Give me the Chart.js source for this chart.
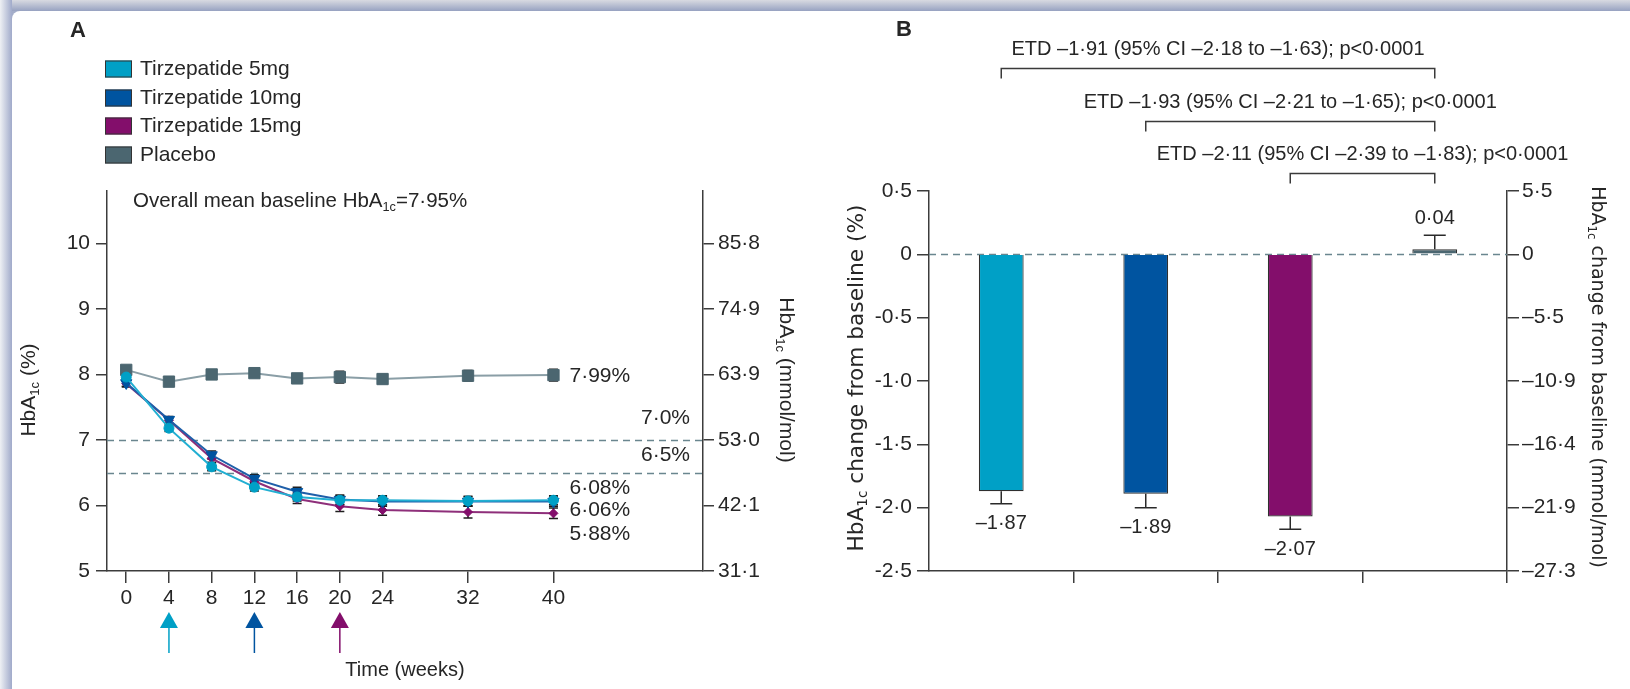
<!DOCTYPE html>
<html>
<head>
<meta charset="utf-8">
<title>Tirzepatide HbA1c</title>
<script src="https://cdn.jsdelivr.net/npm/chart.js@4.4.1/dist/chart.umd.min.js"></script>
<style>
  html, body { margin: 0; padding: 0; background: #fff; }
  body { width: 1630px; height: 689px; position: relative; overflow: hidden; }
  #bandTop { position: absolute; left: 0; top: 0; width: 1630px; height: 11px;
             background: linear-gradient(to bottom, #d8dae1, #97a2c1); }
  #bandLeft { position: absolute; left: 0; top: 0; width: 12px; height: 689px;
              background: linear-gradient(to right, #eef0f4, #a0aaca); }
  #cornerFill { position: absolute; left: 12px; top: 11px; width: 10px; height: 10px; background: #a3adc9; }
  #sheet { position: absolute; left: 12px; top: 11px; right: 0; bottom: 0; background: #fff;
           border-top-left-radius: 8px; }
  canvas { position: absolute; top: 0; }
  #chartA { left: 0; }
  #chartB { left: 815px; }
</style>
</head>
<body>
<div id="bandTop"></div>
<div id="bandLeft"></div>
<div id="cornerFill"></div>
<div id="sheet"></div>
<canvas id="chartA" width="815" height="689"></canvas>
<canvas id="chartB" width="815" height="689"></canvas>
<script>
// ---------- Panel A: HbA1c over time ----------
const weeks    = [0, 4, 8, 12, 16, 20, 24, 32, 40];
const tzp5     = [7.96, 7.18, 6.59, 6.28, 6.13, 6.08, 6.08, 6.07, 6.08];
const tzp10    = [7.87, 7.31, 6.77, 6.41, 6.21, 6.09, 6.06, 6.06, 6.06];
const tzp15    = [7.86, 7.30, 6.72, 6.37, 6.10, 5.99, 5.93, 5.90, 5.88];
const placebo  = [8.07, 7.89, 8.00, 8.02, 7.94, 7.96, 7.93, 7.98, 7.99];
const seTzp5   = [0.05, 0.05, 0.06, 0.06, 0.06, 0.07, 0.07, 0.07, 0.07];
const seTzp10  = [0.05, 0.05, 0.06, 0.06, 0.07, 0.07, 0.07, 0.07, 0.07];
const seTzp15  = [0.05, 0.05, 0.06, 0.06, 0.07, 0.08, 0.08, 0.09, 0.08];
const sePlacebo = [0.06, 0.05, 0.05, 0.05, 0.06, 0.09, 0.07, 0.08, 0.09];

const seriesNames = ['Tirzepatide 5mg', 'Tirzepatide 10mg', 'Tirzepatide 15mg', 'Placebo'];
const weekTicks   = [0, 4, 8, 12, 16, 20, 24, 32, 40];
const pctTicks    = [5, 6, 7, 8, 9, 10];
const mmolTicks   = ['31·1', '42·1', '53·0', '63·9', '74·9', '85·8'];
const targetLevels = [7.0, 6.5];
const doseEscalationWeeks = [4, 12, 20];
const baselineMean = 7.95;

// ---------- Panel B: change from baseline at week 40 ----------
const groups        = seriesNames;
const changePct     = [-1.87, -1.89, -2.07, 0.04];
const changeSE      = [0.10, 0.11, 0.10, 0.11];
const changeTicks   = [0.5, 0, -0.5, -1.0, -1.5, -2.0, -2.5];
const changeTickLabels = ['0·5', '0', '-0·5', '-1·0', '-1·5', '-2·0', '-2·5'];
const mmolChangeLabels = ['5·5', '0', '–5·5', '–10·9', '–16·4', '–21·9', '–27·3'];
const etdEstimate   = [-1.91, -1.93, -2.11];
const etdLower      = [-2.18, -2.21, -2.39];
const etdUpper      = [-1.63, -1.65, -1.83];
const etdFrom       = [0, 1, 2];
const etdTo         = [3, 3, 3];
const etdP          = ['p<0·0001', 'p<0·0001', 'p<0·0001'];

// ---------- styling ----------
const FAMILY = "'Liberation Sans', Arial, sans-serif";
const TITLE_FAMILY = "'DejaVu Sans', Verdana, sans-serif";
const INK = '#262626';
const AXIS = '#3c3c3c';
const markerColors = ['#00a0c6', '#0054a0', '#830e6b', '#4b6670'];
const lineColors   = ['#22afd2', '#1f5fa9', '#8e2f7a', '#8a9ea6'];
const markerStyles = ['circle', 'triangle', 'rectRot', 'rect'];
const markerRadius = [5, 6.5, 4.5, 8];
const markerRotation = [0, 180, 0, 0];

Chart.defaults.font.family = FAMILY;
Chart.defaults.color = INK;
Chart.defaults.animation = false;

function fmt(v, d) {
  const s = Math.abs(v).toFixed(d).replace('.', '·');
  return v < 0 ? '–' + s : s;
}

function drawRich(ctx, parts, x, y, size, o = {}) {
  const fam = o.family || FAMILY;
  const subSize = size * 0.62;
  const mainF = `${size}px ${fam}`, subF = `${subSize}px ${fam}`;
  ctx.save();
  let total = 0;
  const widths = parts.map(([t, sub]) => {
    ctx.font = sub ? subF : mainF;
    const w = ctx.measureText(t).width;
    total += w;
    return w;
  });
  ctx.translate(x, y);
  if (o.rot) ctx.rotate(o.rot);
  let cx = o.align === 'left' ? 0 : -total / 2;
  const base = size * 0.36;
  ctx.fillStyle = o.color || INK;
  ctx.textBaseline = 'alphabetic';
  ctx.textAlign = 'left';
  parts.forEach(([t, sub], k) => {
    ctx.font = sub ? subF : mainF;
    ctx.fillText(t, cx, base + (sub ? size * 0.2 : 0));
    cx += widths[k];
  });
  ctx.restore();
}

function drawText(ctx, t, x, y, size, align, weight) {
  ctx.save();
  ctx.font = `${weight || 'normal'} ${size}px ${FAMILY}`;
  ctx.fillStyle = INK;
  ctx.textAlign = align || 'center';
  ctx.textBaseline = 'middle';
  ctx.fillText(t, x, y);
  ctx.restore();
}

const fixedTicks = list => scale => { scale.ticks = list.map(v => ({ value: v })); };

// ---------- Panel A drawing helpers ----------
const panelAPlugin = {
  id: 'panelA',
  beforeDatasetsDraw(chart) {
    const { ctx, chartArea: ca, scales: { y } } = chart;
    // glycaemic target reference lines
    ctx.save();
    ctx.strokeStyle = '#6a868f';
    ctx.lineWidth = 1.5;
    ctx.setLineDash([7, 5]);
    targetLevels.forEach(t => {
      const py = Math.round(y.getPixelForValue(t)) + 0.5;
      ctx.beginPath();
      ctx.moveTo(ca.left, py);
      ctx.lineTo(ca.right, py);
      ctx.stroke();
    });
    ctx.restore();
    const labelOffset = [-22, -18];
    targetLevels.forEach((t, i) => {
      drawText(ctx, fmt(t, 1) + '%', ca.right - 13, y.getPixelForValue(t) + labelOffset[i], 21, 'right');
    });
    // error bars (drawn beneath the markers)
    ctx.save();
    ctx.strokeStyle = '#1e1e1e';
    ctx.lineWidth = 1.5;
    chart.data.datasets.forEach((ds, i) => {
      const meta = chart.getDatasetMeta(i);
      meta.data.forEach((pt, j) => {
        const v = ds.data[j].y, e = ds.se[j];
        const y1 = y.getPixelForValue(v + e), y2 = y.getPixelForValue(v - e);
        ctx.beginPath();
        ctx.moveTo(pt.x, y1); ctx.lineTo(pt.x, y2);
        ctx.moveTo(pt.x - 4.5, y1); ctx.lineTo(pt.x + 4.5, y1);
        ctx.moveTo(pt.x - 4.5, y2); ctx.lineTo(pt.x + 4.5, y2);
        ctx.stroke();
      });
    });
    ctx.restore();
  },
  afterDatasetsDraw(chart) {
    const { ctx, scales: { x, y } } = chart;
    // final values at week 40
    const offsets = [-12, 9, 21, 1.5];
    chart.data.datasets.forEach((ds, i) => {
      const last = ds.data[ds.data.length - 1];
      drawText(ctx, fmt(last.y, 2) + '%', x.getPixelForValue(last.x) + 16,
               y.getPixelForValue(last.y) + offsets[i], 21, 'left');
    });
  },
  afterDraw(chart) {
    const { ctx, chartArea: ca, scales: { x } } = chart;
    drawText(ctx, 'A', 70, 31, 22, 'left', 'bold');
    // legend
    const rows = [69, 98, 126, 155];
    chart.data.datasets.forEach((ds, i) => {
      ctx.save();
      ctx.fillStyle = markerColors[i];
      ctx.strokeStyle = '#333';
      ctx.lineWidth = 1;
      ctx.fillRect(105, rows[i] - 8.5, 27, 17);
      ctx.strokeRect(105.5, rows[i] - 8, 26, 16);
      ctx.restore();
      drawText(ctx, ds.label, 140, rows[i], 21, 'left');
    });
    // baseline note
    drawRich(ctx, [['Overall mean baseline HbA', 0], ['1c', 1], ['=' + fmt(baselineMean, 2) + '%', 0]],
             133, 200, 20.5, { align: 'left' });
    // axis titles
    drawRich(ctx, [['HbA', 0], ['1c', 1], [' (%)', 0]], 27, 390, 21, { rot: -Math.PI / 2 });
    drawRich(ctx, [['HbA', 0], ['1c', 1], [' (mmol/mol)', 0]], 788, 380, 21, { rot: Math.PI / 2 });
    drawText(ctx, 'Time (weeks)', (ca.left + ca.right) / 2, 670, 20, 'center');
    // dose-escalation arrows
    doseEscalationWeeks.forEach((w, i) => {
      const px = x.getPixelForValue(w);
      ctx.save();
      ctx.fillStyle = markerColors[i];
      ctx.strokeStyle = markerColors[i];
      ctx.beginPath();
      ctx.moveTo(px, 612); ctx.lineTo(px + 9, 628); ctx.lineTo(px - 9, 628); ctx.closePath();
      ctx.fill();
      ctx.lineWidth = 1.5;
      ctx.beginPath();
      ctx.moveTo(px, 627); ctx.lineTo(px, 653);
      ctx.stroke();
      ctx.restore();
    });
  }
};

const hbSeries = [tzp5, tzp10, tzp15, placebo];
const hbSE = [seTzp5, seTzp10, seTzp15, sePlacebo];

const axisGrid = len => ({ drawOnChartArea: false, drawTicks: true, tickLength: len, color: AXIS, lineWidth: 1.5 });
const axisBorder = { display: true, color: AXIS, width: 1.5 };

new Chart(document.getElementById('chartA'), {
  type: 'line',
  data: {
    datasets: seriesNames.map((name, i) => ({
      label: name,
      data: weeks.map((w, j) => ({ x: w, y: hbSeries[i][j] })),
      se: hbSE[i],
      borderColor: lineColors[i],
      backgroundColor: markerColors[i],
      pointBackgroundColor: markerColors[i],
      pointBorderColor: markerColors[i],
      pointBorderWidth: 1,
      pointStyle: markerStyles[i],
      pointRadius: markerRadius[i],
      pointRotation: markerRotation[i],
      borderWidth: 2,
      tension: 0
    }))
  },
  options: {
    responsive: false,
    animation: false,
    layout: { padding: { top: 191, left: 0, right: 0, bottom: 0 } },
    plugins: { legend: { display: false }, tooltip: { enabled: false } },
    scales: {
      x: {
        type: 'linear', min: -1.8, max: 54,
        afterBuildTicks: fixedTicks(weekTicks),
        afterFit: s => { s.height = 118; },
        grid: axisGrid(12), border: axisBorder,
        ticks: { font: { size: 21 }, padding: 3, maxRotation: 0, autoSkip: false, color: INK }
      },
      y: {
        position: 'left', min: 5, max: 10.8,
        afterBuildTicks: fixedTicks(pctTicks),
        afterFit: s => { s.width = 107; },
        grid: axisGrid(11), border: axisBorder,
        ticks: { font: { size: 21 }, padding: 6, color: INK, callback: v => String(v) }
      },
      y2: {
        position: 'right', min: 5, max: 10.8,
        afterBuildTicks: fixedTicks(pctTicks),
        afterFit: s => { s.width = 112; },
        grid: axisGrid(11), border: axisBorder,
        ticks: { font: { size: 21 }, padding: 4, color: INK, callback: (v, i) => mmolTicks[i] }
      }
    }
  },
  plugins: [panelAPlugin]
});

// ---------- Panel B drawing helpers ----------
const panelBPlugin = {
  id: 'panelB',
  beforeDatasetsDraw(chart) {
    const { ctx, chartArea: ca, scales: { y } } = chart;
    ctx.save();
    ctx.strokeStyle = '#6a868f';
    ctx.lineWidth = 1.5;
    ctx.setLineDash([7, 5]);
    const py = Math.round(y.getPixelForValue(0)) + 0.5;
    ctx.beginPath();
    ctx.moveTo(ca.left, py);
    ctx.lineTo(ca.right, py);
    ctx.stroke();
    ctx.restore();
  },
  afterDatasetsDraw(chart) {
    const { ctx, scales: { x, y } } = chart;
    const ds = chart.data.datasets[0];
    const meta = chart.getDatasetMeta(0);
    meta.data.forEach((bar, i) => {
      const v = ds.data[i];
      const end = v < 0 ? v - ds.se[i] : v + ds.se[i];
      const y0 = y.getPixelForValue(v), y1 = y.getPixelForValue(end);
      ctx.save();
      ctx.strokeStyle = '#2a2a2a';
      ctx.lineWidth = 1.5;
      ctx.beginPath();
      ctx.moveTo(bar.x, y0); ctx.lineTo(bar.x, y1);
      ctx.moveTo(bar.x - 11, y1); ctx.lineTo(bar.x + 11, y1);
      ctx.stroke();
      ctx.restore();
      drawText(ctx, fmt(v, 2), bar.x, y1 + (v < 0 ? 20 : -17), 20, 'center');
    });
    // treatment differences versus placebo
    const levels = [68, 121, 173];
    etdEstimate.forEach((e, k) => {
      const xa = x.getPixelForValue(etdFrom[k]), xb = x.getPixelForValue(etdTo[k]);
      const ly = levels[k] + 0.5;
      ctx.save();
      ctx.strokeStyle = '#3a3a3a';
      ctx.lineWidth = 1.5;
      ctx.beginPath();
      ctx.moveTo(xa, ly + 10); ctx.lineTo(xa, ly); ctx.lineTo(xb, ly); ctx.lineTo(xb, ly + 10);
      ctx.stroke();
      ctx.restore();
      const label = `ETD ${fmt(e, 2)} (95% CI ${fmt(etdLower[k], 2)} to ${fmt(etdUpper[k], 2)}); ${etdP[k]}`;
      drawText(ctx, label, (xa + xb) / 2, levels[k] - 19, 20, 'center');
    });
  },
  afterDraw(chart) {
    const { ctx } = chart;
    drawText(ctx, 'B', 81, 30, 22, 'left', 'bold');
    drawRich(ctx, [['HbA', 0], ['1c', 1], [' change from baseline (%)', 0]], 40, 378, 21.7,
             { rot: -Math.PI / 2, family: TITLE_FAMILY });
    drawRich(ctx, [['HbA', 0], ['1c', 1], [' change from baseline (mmol/mol)', 0]], 784, 377, 19,
             { rot: Math.PI / 2, family: TITLE_FAMILY });
  }
};

new Chart(document.getElementById('chartB'), {
  type: 'bar',
  data: {
    labels: groups,
    datasets: [{
      data: changePct,
      se: changeSE,
      backgroundColor: markerColors,
      borderColor: '#2f2f2f',
      borderWidth: 1.2,
      barPercentage: 0.31,
      categoryPercentage: 1
    }]
  },
  options: {
    responsive: false,
    animation: false,
    layout: { padding: { top: 191, left: 0, right: 0, bottom: 0 } },
    plugins: { legend: { display: false }, tooltip: { enabled: false } },
    scales: {
      x: {
        type: 'category', offset: true,
        afterFit: s => { s.height = 118; },
        grid: {
          offset: true, drawOnChartArea: false, drawTicks: true, tickLength: 12, lineWidth: 1.5,
          color: c => (c.index === 0 ? 'rgba(0,0,0,0)' : AXIS)
        },
        border: axisBorder,
        ticks: { display: false }
      },
      y: {
        position: 'left', min: -2.5, max: 0.5,
        afterBuildTicks: fixedTicks(changeTicks),
        afterFit: s => { s.width = 114; },
        grid: axisGrid(12), border: axisBorder,
        ticks: { font: { size: 21 }, padding: 5, color: INK, callback: (v, i) => changeTickLabels[i] }
      },
      y2: {
        position: 'right', min: -2.5, max: 0.5,
        afterBuildTicks: fixedTicks(changeTicks),
        afterFit: s => { s.width = 123; },
        grid: axisGrid(12), border: axisBorder,
        ticks: { font: { size: 21 }, padding: 3, color: INK, callback: (v, i) => mmolChangeLabels[i] }
      }
    }
  },
  plugins: [panelBPlugin]
});
</script>
</body>
</html>
